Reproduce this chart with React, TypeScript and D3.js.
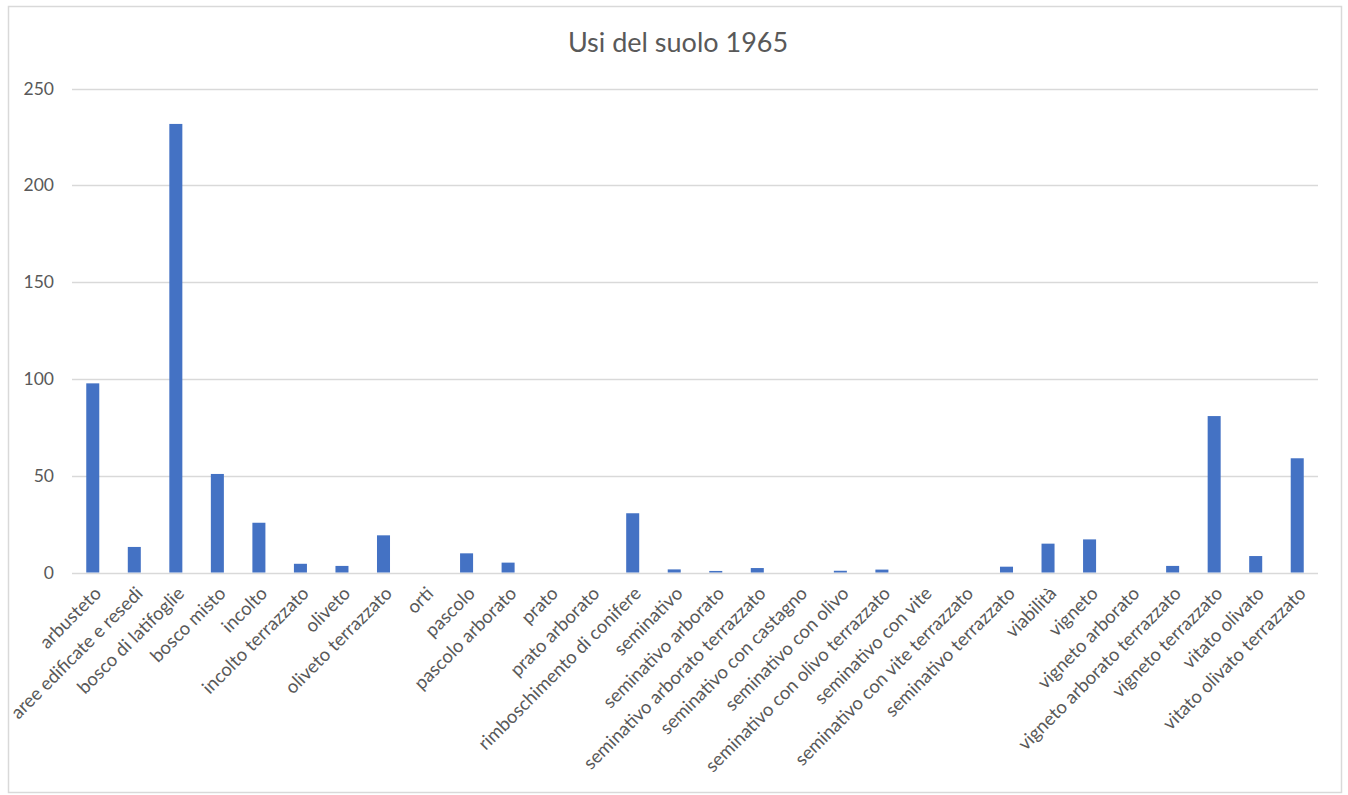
import React from "react";
import * as d3 from "d3";

const categories: string[] = [
  "arbusteto",
  "aree edificate e resedi",
  "bosco di latifoglie",
  "bosco misto",
  "incolto",
  "incolto terrazzato",
  "oliveto",
  "oliveto terrazzato",
  "orti",
  "pascolo",
  "pascolo arborato",
  "prato",
  "prato arborato",
  "rimboschimento di conifere",
  "seminativo",
  "seminativo arborato",
  "seminativo arborato terrazzato",
  "seminativo con castagno",
  "seminativo con olivo",
  "seminativo con olivo terrazzato",
  "seminativo con vite",
  "seminativo con vite terrazzato",
  "seminativo terrazzato",
  "viabilità",
  "vigneto",
  "vigneto arborato",
  "vigneto arborato terrazzato",
  "vigneto terrazzato",
  "vitato olivato",
  "vitato olivato terrazzato",
];

const values: number[] = [
  97.7, 13.2, 231.7, 50.9, 25.7, 4.5, 3.4, 19.2, 0, 9.9, 5.1, 0, 0, 30.6, 1.6,
  0.8, 2.3, 0, 0.9, 1.5, 0, 0, 3.0, 14.9, 17.1, 0, 3.4, 80.8, 8.5, 59.0,
];

const yTicks: number[] = [0, 50, 100, 150, 200, 250];

const title = "Usi del suolo 1965";

const W = 1348;
const H = 795;
const FONT = "Lato, 'Open Sans', sans-serif";
const TEXT = "#595959";
const GRID = "#D9D9D9";
const BAR = "#4472C4";

export default function App() {
  const x = d3.scaleBand<string>().domain(categories).range([72, 1318]);
  const y = d3.scaleLinear().domain([0, 250]).range([572.5, 88.5]);
  const bw = x.bandwidth() / 3.19;

  return (
    <svg
      width={W}
      height={H}
      style={{ position: "absolute", left: 0, top: 0, background: "#fff" }}
      fontFamily={FONT}
    >
      <rect x={0} y={0} width={W} height={H} fill="#fff" />
      <rect
        x={8.5}
        y={6.5}
        width={1333}
        height={786}
        fill="#fff"
        stroke={GRID}
        strokeWidth={1.5}
      />
      <text x={678} y={52} textAnchor="middle" fontSize={27} fill={TEXT}>
        {title}
      </text>
      {yTicks.map((t) => (
        <g key={t}>
          <line
            x1={72}
            x2={1318}
            y1={Math.round(y(t)) + 0.5}
            y2={Math.round(y(t)) + 0.5}
            stroke={GRID}
            strokeWidth={1.3}
          />
          <text
            x={54}
            y={y(t)}
            dy="0.35em"
            textAnchor="end"
            fontSize={17.5}
            fill={TEXT}
          >
            {t}
          </text>
        </g>
      ))}
      {categories.map((c, i) => (
        <rect
          key={c}
          x={(x(c) as number) + x.bandwidth() / 2 - bw / 2}
          y={y(values[i])}
          width={bw}
          height={y(0) - y(values[i])}
          fill={BAR}
        />
      ))}
      {categories.map((c) => {
        const cx = (x(c) as number) + x.bandwidth() / 2 + 5;
        return (
          <text
            key={c}
            transform={`translate(${cx},${590}) rotate(-45)`}
            textAnchor="end"
            dy="0.35em"
            fontSize={18.5}
            fill={TEXT}
          >
            {c}
          </text>
        );
      })}
    </svg>
  );
}
